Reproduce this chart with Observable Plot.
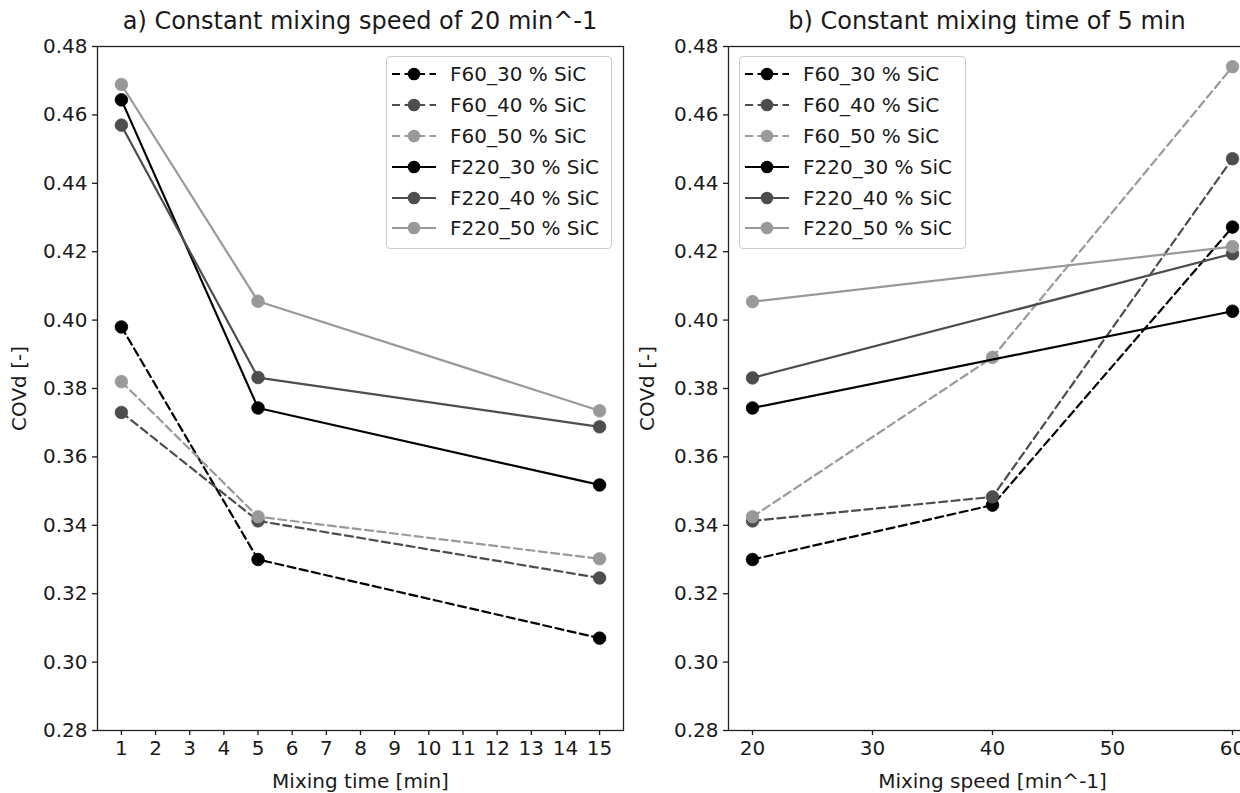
<!DOCTYPE html>
<html><head><meta charset="utf-8">
<script src="https://cdn.jsdelivr.net/npm/d3@7"></script>
<script src="https://cdn.jsdelivr.net/npm/@observablehq/plot@0.6"></script>
<style>
html,body{margin:0;padding:0;width:1240px;height:793px;overflow:hidden;background:#fff;font-family:"DejaVu Sans",sans-serif;}
#wrap{position:relative;width:1240px;height:793px;overflow:hidden;}
.title{position:absolute;top:7px;font-size:24px;color:#1a1a1a;text-align:center;white-space:nowrap;}
.panel{position:absolute;top:36px;}
.legend{position:absolute;top:56px;height:193px;box-sizing:border-box;border:1px solid #cccccc;border-radius:4px;background:rgba(255,255,255,0.8);padding-top:2px;}
.row{height:30.8px;display:flex;align-items:center;font-size:20px;color:#1a1a1a;white-space:nowrap;}
.row svg{flex:none;}
</style></head><body><div id="wrap"></div>
<script>
// ---- data ----
const seriesNames = ["F60_30 % SiC","F60_40 % SiC","F60_50 % SiC","F220_30 % SiC","F220_40 % SiC","F220_50 % SiC"];
const seriesColors = ["#000000","#4d4d4d","#999999","#000000","#4d4d4d","#999999"];
const seriesDashed = [true,true,true,false,false,false];

// panel a: constant mixing speed of 20 min^-1
const mixingTime = [1, 5, 15];
const timeF60_30  = [0.398, 0.330, 0.307];
const timeF60_40  = [0.373, 0.3413, 0.3246];
const timeF60_50  = [0.382, 0.3425, 0.3302];
const timeF220_30 = [0.4644, 0.3743, 0.3518];
const timeF220_40 = [0.457, 0.3832, 0.3688];
const timeF220_50 = [0.4689, 0.4055, 0.3735];

// panel b: constant mixing time of 5 min
const mixingSpeedF60  = [20, 40, 60];
const mixingSpeedF220 = [20, 60];
const speedF60_30  = [0.330, 0.3459, 0.4272];
const speedF60_40  = [0.3413, 0.3483, 0.4472];
const speedF60_50  = [0.3425, 0.3891, 0.4741];
const speedF220_30 = [0.3743, 0.4026];
const speedF220_40 = [0.3831, 0.4194];
const speedF220_50 = [0.4054, 0.4215];

const yTicks = [0.28,0.30,0.32,0.34,0.36,0.38,0.40,0.42,0.44,0.46,0.48];
const xTicksTime = [1,2,3,4,5,6,7,8,9,10,11,12,13,14,15];
const xTicksSpeed = [20,30,40,50,60];

const titleA = "a) Constant mixing speed of 20 min^-1";
const titleB = "b) Constant mixing time of 5 min";

// ---- build tables ----
function rows(xs, ys, i){ return xs.map((x,k)=>({series: seriesNames[i], x, y: ys[k]})); }
const tableA = [
  rows(mixingTime, timeF60_30, 0), rows(mixingTime, timeF60_40, 1), rows(mixingTime, timeF60_50, 2),
  rows(mixingTime, timeF220_30, 3), rows(mixingTime, timeF220_40, 4), rows(mixingTime, timeF220_50, 5)
];
const tableB = [
  rows(mixingSpeedF60, speedF60_30, 0), rows(mixingSpeedF60, speedF60_40, 1), rows(mixingSpeedF60, speedF60_50, 2),
  rows(mixingSpeedF220, speedF220_30, 3), rows(mixingSpeedF220, speedF220_40, 4), rows(mixingSpeedF220, speedF220_50, 5)
];

const DASH = "8,4.5";

function seriesMarks(table){
  const marks = [];
  table.forEach((data,i)=>{
    marks.push(Plot.line(data, {x:"x", y:"y", stroke: seriesColors[i], strokeWidth: 2.2,
      strokeDasharray: seriesDashed[i] ? DASH : null}));
    marks.push(Plot.dot(data, {x:"x", y:"y", r: 6.3, fill: seriesColors[i], stroke: seriesColors[i], strokeWidth: 0.8}));
  });
  return marks;
}

function panel(table, xDomain, xTicks, xLabel, width, marginLeft, yLabelOffset){
  return Plot.plot({
    width, height: 757,
    marginLeft, marginRight: 7, marginTop: 10, marginBottom: 63,
    style: {fontFamily: '"DejaVu Sans", sans-serif', fontSize: "20px", color: "#1a1a1a", background: "transparent", overflow: "visible"},
    x: {domain: xDomain},
    y: {domain: [0.28, 0.48]},
    marks: [
      ...seriesMarks(table),
      Plot.frame({stroke: "#222", strokeWidth: 1.3}),
      Plot.axisX({ticks: xTicks, tickSize: 5, tickPadding: 5, tickFormat: d3.format("d"),
        label: xLabel, labelAnchor: "center", labelArrow: "none", labelOffset: 57, strokeWidth: 1.3}),
      Plot.axisY({ticks: yTicks, tickSize: 5, tickPadding: 5, tickFormat: d3.format(".2f"),
        label: "COVd [-]", labelAnchor: "center", labelArrow: "none", labelOffset: yLabelOffset, strokeWidth: 1.3})
    ]
  });
}

const wrap = document.getElementById("wrap");

function addPanel(el, left){
  el.classList.add("panel");
  el.style.left = left + "px";
  wrap.appendChild(el);
}
addPanel(panel(tableA, [0.3, 15.7], xTicksTime, "Mixing time [min]", 630, 97, 86), 0);
addPanel(panel(tableB, [18, 62], xTicksSpeed, "Mixing speed [min^-1]", 623, 88, 89), 640);

function addTitle(text, left, width){
  const d = document.createElement("div");
  d.className = "title";
  d.style.left = left + "px";
  d.style.width = width + "px";
  d.textContent = text;
  wrap.appendChild(d);
}
addTitle(titleA, 97, 526);
addTitle(titleB, 728, 518);

function addLegend(left, width){
  const box = document.createElement("div");
  box.className = "legend";
  box.style.left = left + "px";
  box.style.width = width + "px";
  seriesNames.forEach((name,i)=>{
    const row = document.createElement("div");
    row.className = "row";
    const svg = d3.create("svg").attr("width", 44).attr("height", 20).style("margin-left","5px").style("margin-right","14px");
    svg.append("line").attr("x1",0).attr("x2",44).attr("y1",10).attr("y2",10)
      .attr("stroke", seriesColors[i]).attr("stroke-width",2.2)
      .attr("stroke-dasharray", seriesDashed[i] ? DASH : null);
    svg.append("circle").attr("cx",22).attr("cy",10).attr("r",6.3).attr("fill", seriesColors[i]);
    row.appendChild(svg.node());
    const t = document.createElement("span");
    t.textContent = name;
    row.appendChild(t);
    box.appendChild(row);
  });
  wrap.appendChild(box);
}
addLegend(386, 226);
addLegend(739, 227);
</script>
</body></html>
